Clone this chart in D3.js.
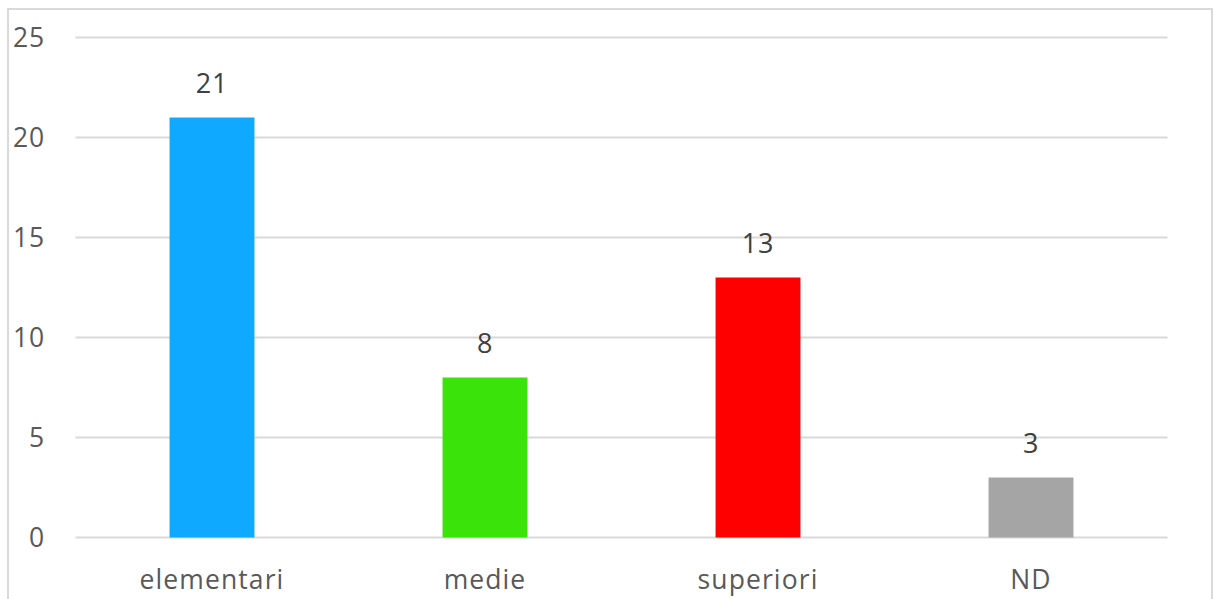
<!DOCTYPE html>
<html>
<head>
<meta charset="utf-8">
<script src="https://cdn.jsdelivr.net/npm/d3@7"></script>
<style>
  html, body { margin: 0; padding: 0; background: #fff; }
  svg { display: block; }
  text { font-family: "Open Sans", "Noto Sans", sans-serif; fill: #595959; }
</style>
</head>
<body>
<svg id="chart" width="1214" height="599"></svg>
<script>
// Chart data
const categories = ["elementari", "medie", "superiori", "ND"];
const values = [21, 8, 13, 3];
const barColors = ["#0fa9ff", "#3ae40a", "#ff0000", "#a5a5a5"];
const yTicks = [0, 5, 10, 15, 20, 25];

(function draw() {
  const svg = d3.select("#chart");

  // Plot area
  const plotLeft = 75.5, plotRight = 1167.5, plotTop = 37.5, plotBottom = 537.5;

  const x = d3.scaleBand()
    .domain(categories)
    .range([plotLeft, plotRight])
    .paddingInner(0.689)
    .paddingOuter(0.3445);

  const y = d3.scaleLinear()
    .domain([0, 25])
    .range([plotBottom, plotTop]);

  // Outer frame
  svg.append("rect")
    .attr("x", 8).attr("y", 9)
    .attr("width", 1204).attr("height", 700)
    .attr("fill", "none")
    .attr("stroke", "#d9d9d9")
    .attr("stroke-width", 2);

  // Horizontal gridlines
  svg.append("g")
    .selectAll("line")
    .data(yTicks)
    .join("line")
    .attr("x1", plotLeft).attr("x2", plotRight)
    .attr("y1", d => y(d)).attr("y2", d => y(d))
    .attr("stroke", "#d9d9d9")
    .attr("stroke-width", 2);

  // Y-axis tick labels
  svg.append("g")
    .selectAll("text")
    .data(yTicks)
    .join("text")
    .attr("x", 45)
    .attr("y", d => y(d) + 9.5)
    .attr("text-anchor", "end")
    .attr("font-size", 26.5)
    .attr("letter-spacing", 0.8)
    .text(d => d);

  // Bars
  svg.append("g")
    .selectAll("rect")
    .data(values)
    .join("rect")
    .attr("x", (d, i) => x(categories[i]))
    .attr("y", d => y(d))
    .attr("width", x.bandwidth())
    .attr("height", d => y(0) - y(d))
    .attr("fill", (d, i) => barColors[i]);

  // Value labels above bars
  svg.append("g")
    .selectAll("text")
    .data(values)
    .join("text")
    .attr("x", (d, i) => x(categories[i]) + x.bandwidth() / 2)
    .attr("y", d => y(d) - 24.5)
    .attr("text-anchor", "middle")
    .attr("font-size", 27)
    .attr("letter-spacing", 0.8)
    .style("fill", "#404040")
    .text(d => d);

  // Category labels
  svg.append("g")
    .selectAll("text")
    .data(categories)
    .join("text")
    .attr("x", d => x(d) + x.bandwidth() / 2)
    .attr("y", 589)
    .attr("text-anchor", "middle")
    .attr("font-size", 26.5)
    .attr("letter-spacing", 1.1)
    .text(d => d);
})();
</script>
</body>
</html>
